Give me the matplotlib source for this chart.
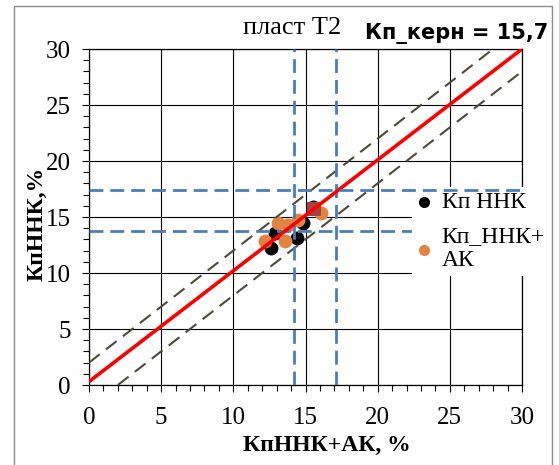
import matplotlib
matplotlib.use("Agg")
import matplotlib.pyplot as plt
from matplotlib.patches import Rectangle
from matplotlib.ticker import MultipleLocator

# ---- data ----
nnk_x = [12.6, 14.4, 14.8, 15.5, 12.9]
nnk_y = [12.2, 13.1, 14.5, 15.9, 13.6]
nnkak_x = [12.2, 13.6, 13.1, 13.8, 14.5, 16.1]
nnkak_y = [12.9, 12.9, 14.5, 14.3, 14.7, 15.4]
core_x = [15.6]
core_y = [15.7]
fit_x = [0, 30]
fit_y = [0.3, 30]
band_upper_x = [0, 28]
band_upper_y = [2, 30]
band_lower_x = [2, 30]
band_lower_y = [0, 28]
cut_x = [14.2, 17.1]
cut_y = [13.75, 17.4]
ticks = [0, 5, 10, 15, 20, 25, 30]
label_nnk = "Кп ННК"
label_nnkak = "Кп_ННК+\nАК"
title_left = "пласт Т2"
title_right = "Кп_керн = 15,7"
xlabel = "КпННК+АК, %"
ylabel = "КпННК,%"

serif = ["Liberation Serif", "DejaVu Serif"]
plt.rcParams["font.family"] = serif

fig = plt.figure(figsize=(5.59, 4.65), dpi=100)
ax = fig.add_axes([89/559, 80/465, 433/559, 336/465])

# frame around chart
fig.patches.append(Rectangle((14/559, -0.05), (552-14)/559, 1.05 - 6/465,
                             transform=fig.transFigure, fill=False,
                             edgecolor="#8c8c8c", lw=1.0, zorder=0))

ax.set_xlim(0, 30)
ax.set_ylim(0, 30)
ax.set_xticks(ticks)
ax.set_yticks(ticks)
ax.xaxis.set_minor_locator(MultipleLocator(1))
ax.yaxis.set_minor_locator(MultipleLocator(1))
ax.grid(True, which="major", color="black", lw=0.8, zorder=0)
ax.set_axisbelow(True)
for s in ax.spines.values():
    s.set_color("black")
    s.set_linewidth(0.9)
ax.tick_params(which="major", direction="out", length=5, width=0.8,
               labelsize=18, top=False, right=False)
ax.tick_params(axis="x", which="major", pad=11)
ax.tick_params(axis="y", which="major", pad=8)
ax.tick_params(which="minor", direction="out", length=4, width=0.8,
               top=False, right=False)

# points
ax.scatter(nnk_x, nnk_y, s=100, color="black", zorder=2, label=label_nnk, linewidths=0)
ax.scatter(nnkak_x, nnkak_y, s=100, color="#e0843f", zorder=3, label=label_nnkak, linewidths=0)
ax.scatter(core_x, core_y, s=115, marker="s", color="#a5423e", zorder=3.5, linewidths=0)

# lines
ax.plot(band_upper_x, band_upper_y, color="#4d4a3a", lw=1.5, dashes=(6.5, 3.8), zorder=4)
ax.plot(band_lower_x, band_lower_y, color="#4d4a3a", lw=1.5, dashes=(6.5, 3.8), zorder=4)
for cx in cut_x:
    ax.axvline(cx, color="#4a7ebb", lw=2, dashes=(5, 2.5), zorder=4)
ax.axhline(cut_y[0], color="#4a7ebb", lw=2, dashes=(5, 2.5), zorder=4)
ax.axhline(cut_y[1], color="#4a7ebb", lw=2, dashes=(5, 2.5), zorder=7)
ax.plot(fit_x, fit_y, color="#ff0000", lw=2.6, zorder=4.5, solid_capstyle="butt")

leg = ax.legend(loc="upper left", bbox_to_anchor=(0.746, 0.59), frameon=True,
                fancybox=False, edgecolor="none", facecolor="white", framealpha=1,
                prop={"size": 17}, handlelength=0.6,
                handletextpad=0.45, labelspacing=0.55, borderpad=0.2,
                borderaxespad=0, markerscale=0.8)
leg.set_zorder(6)

ax.set_xlabel(xlabel, fontsize=17, fontweight="bold")
ax.xaxis.set_label_coords(0.55, -0.15)
ax.set_ylabel(ylabel, fontsize=17, fontweight="bold")
ax.yaxis.set_label_coords(-0.095, 0.48)

fig.text(243/559, 1 - 28/465, title_left, fontsize=19,
         ha="left", va="center")
fig.text(365/559, 1 - 33/465, title_right, fontsize=15, fontweight="bold",
         family=["DejaVu Sans"], ha="left", va="center")

fig.savefig("out.png", dpi=100)
